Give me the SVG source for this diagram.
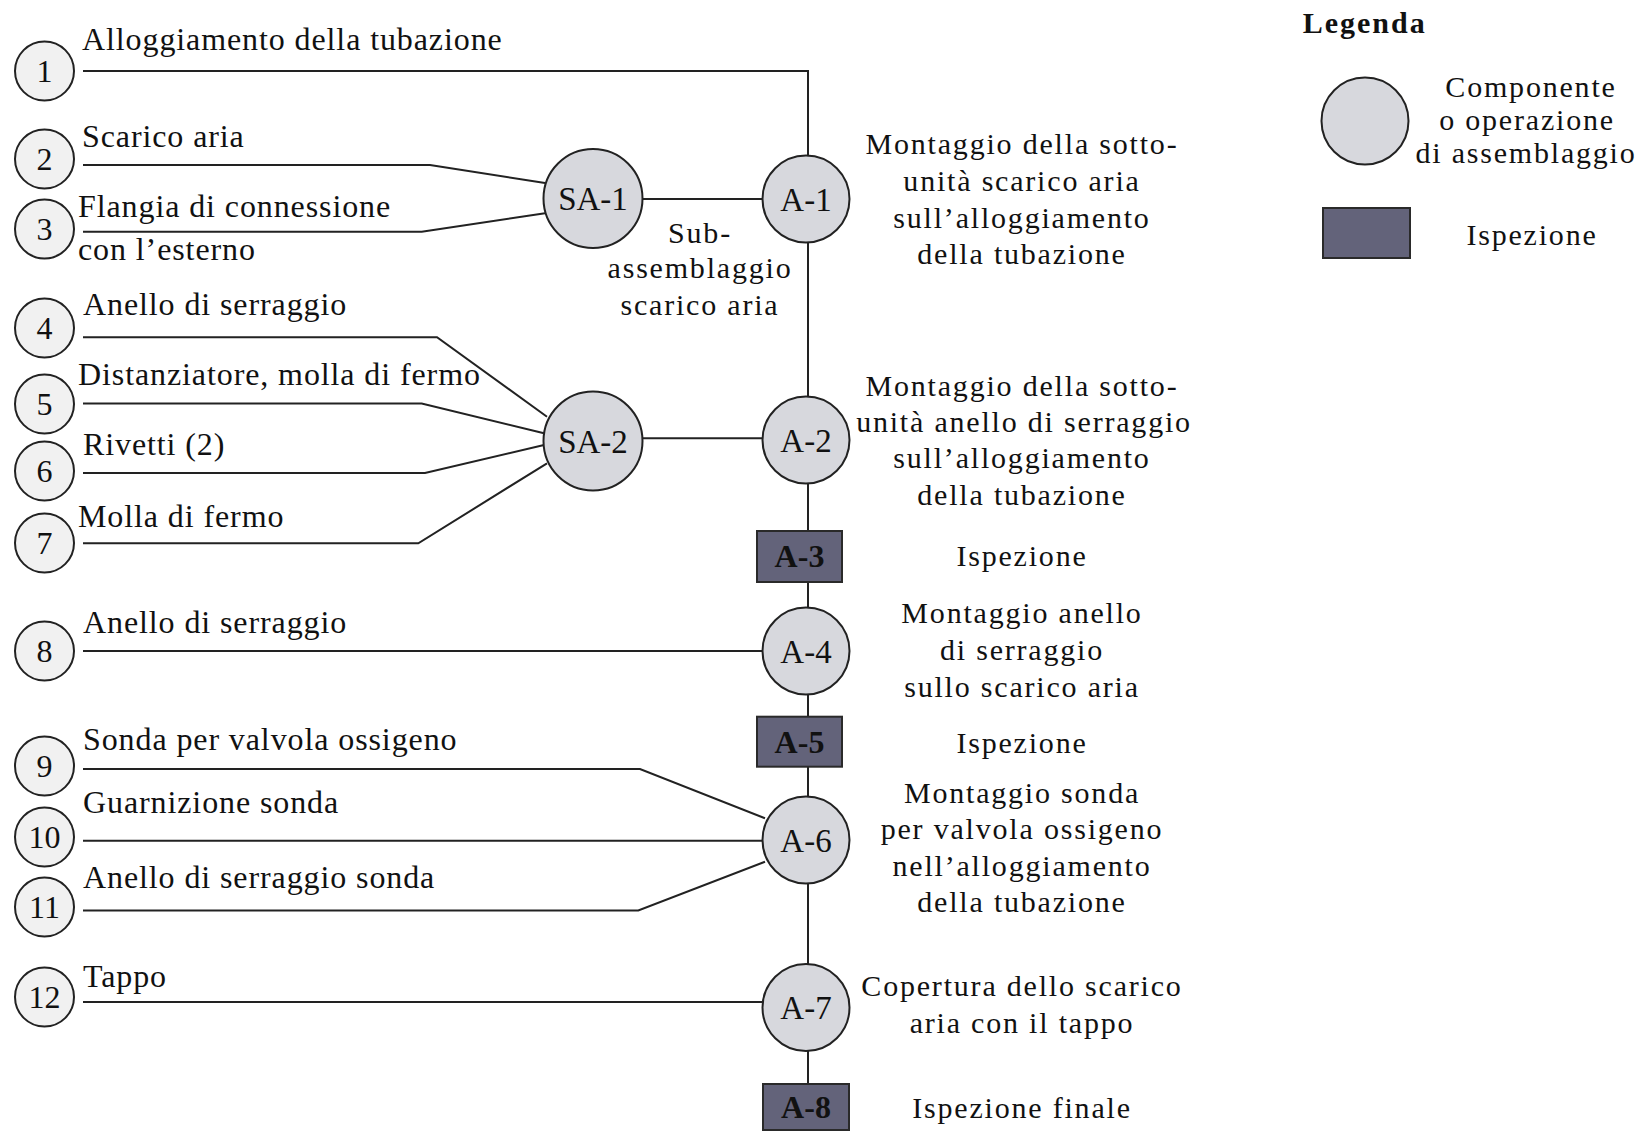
<svg xmlns="http://www.w3.org/2000/svg" width="1638" height="1132" viewBox="0 0 1638 1132">
  <style>
    text { font-family: "Liberation Serif", "Times New Roman", serif; fill: #111; }
    .part { fill: #f1f1f1; stroke: #222; stroke-width: 2; }
    .op { fill: #d7d8dd; stroke: #222; stroke-width: 2; }
    .insp { fill: #63637a; stroke: #2a2a2a; stroke-width: 2; }
    .num { font-size: 32px; text-anchor: middle; }
    .lbl { font-size: 32px; letter-spacing: 0.9px; }
    .nid { font-size: 33px; text-anchor: middle; }
    .rid { font-size: 32px; font-weight: bold; text-anchor: middle; }
    .desc { font-size: 30px; letter-spacing: 1.8px; text-anchor: middle; }
    .wire { fill: none; stroke: #222; stroke-width: 2; }
  </style>

  <rect x="0" y="0" width="1638" height="1132" fill="#ffffff"/>

  <!-- connectors -->
  <g id="connectors" class="wire">
    <path d="M83,71 H808 V1084"/>
    <path d="M83,165 H430 L545,183"/>
    <path d="M83,231.7 H421.7 L545,213.3"/>
    <path d="M83,337.3 H437 L547,416.7"/>
    <path d="M83,403.5 H421.7 L544,433.3"/>
    <path d="M83,473 H425 L544,445"/>
    <path d="M83,543.3 H418.3 L547,463.3"/>
    <path d="M642.5,199 H762.5"/>
    <path d="M642.5,438.3 H762.5"/>
    <path d="M83,651 H762.5"/>
    <path d="M83,769 H640 L765,818.3"/>
    <path d="M83,840.7 H762.5"/>
    <path d="M83,910.5 H638.3 L765,861.7"/>
    <path d="M83,1002 H762.5"/>
  </g>

  <!-- components -->
  <g id="p1"><circle class="part" cx="44.5" cy="71" r="29.5"/><text class="num" x="44.5" y="82">1</text>
    <text class="lbl" x="82" y="50">Alloggiamento della tubazione</text></g>
  <g id="p2"><circle class="part" cx="44.5" cy="159" r="29.5"/><text class="num" x="44.5" y="170">2</text>
    <text class="lbl" x="82" y="146.7">Scarico aria</text></g>
  <g id="p3"><circle class="part" cx="44.5" cy="229" r="29.5"/><text class="num" x="44.5" y="240">3</text>
    <text class="lbl" x="78" y="216.7">Flangia di connessione</text>
    <text class="lbl" x="78" y="260">con l’esterno</text></g>
  <g id="p4"><circle class="part" cx="44.5" cy="328" r="29.5"/><text class="num" x="44.5" y="339">4</text>
    <text class="lbl" x="83" y="315">Anello di serraggio</text></g>
  <g id="p5"><circle class="part" cx="44.5" cy="404" r="29.5"/><text class="num" x="44.5" y="415">5</text>
    <text class="lbl" x="78" y="385">Distanziatore, molla di fermo</text></g>
  <g id="p6"><circle class="part" cx="44.5" cy="471" r="29.5"/><text class="num" x="44.5" y="482">6</text>
    <text class="lbl" x="83" y="455">Rivetti (2)</text></g>
  <g id="p7"><circle class="part" cx="44.5" cy="543" r="29.5"/><text class="num" x="44.5" y="554">7</text>
    <text class="lbl" x="78" y="527">Molla di fermo</text></g>
  <g id="p8"><circle class="part" cx="44.5" cy="651" r="29.5"/><text class="num" x="44.5" y="662">8</text>
    <text class="lbl" x="83" y="633.3">Anello di serraggio</text></g>
  <g id="p9"><circle class="part" cx="44.5" cy="766" r="29.5"/><text class="num" x="44.5" y="777">9</text>
    <text class="lbl" x="83" y="750">Sonda per valvola ossigeno</text></g>
  <g id="p10"><circle class="part" cx="44.5" cy="837" r="29.5"/><text class="num" x="44.5" y="848">10</text>
    <text class="lbl" x="83" y="813.3">Guarnizione sonda</text></g>
  <g id="p11"><circle class="part" cx="44.5" cy="907" r="29.5"/><text class="num" x="44.5" y="918">11</text>
    <text class="lbl" x="83" y="888.3">Anello di serraggio sonda</text></g>
  <g id="p12"><circle class="part" cx="44.5" cy="997" r="29.5"/><text class="num" x="44.5" y="1008">12</text>
    <text class="lbl" x="83" y="986.7">Tappo</text></g>

  <!-- sub-assemblies -->
  <g id="SA-1"><circle class="op" cx="593" cy="198.5" r="49.5"/><text class="nid" x="593" y="210">SA-1</text>
    <text class="desc" x="700" y="243.3">Sub-</text>
    <text class="desc" x="700" y="278.3">assemblaggio</text>
    <text class="desc" x="700" y="315">scarico aria</text></g>
  <g id="SA-2"><circle class="op" cx="593" cy="441" r="49.5"/><text class="nid" x="593" y="452.5">SA-2</text></g>

  <!-- assembly operations and inspections -->
  <g id="A-1"><circle class="op" cx="806" cy="199" r="43.5"/><text class="nid" x="806" y="210.5">A-1</text>
    <text class="desc" x="1022" y="153.6">Montaggio della sotto-</text>
    <text class="desc" x="1022" y="191">unità scarico aria</text>
    <text class="desc" x="1022" y="228">sull’alloggiamento</text>
    <text class="desc" x="1022" y="264.3">della tubazione</text></g>
  <g id="A-2"><circle class="op" cx="806" cy="440" r="43.5"/><text class="nid" x="806" y="451.5">A-2</text>
    <text class="desc" x="1022" y="396.4">Montaggio della sotto-</text>
    <text class="desc" x="1024" y="432">unità anello di serraggio</text>
    <text class="desc" x="1022" y="468">sull’alloggiamento</text>
    <text class="desc" x="1022" y="505.4">della tubazione</text></g>
  <g id="A-3"><rect class="insp" x="757" y="531" width="85" height="51"/><text class="rid" x="799.5" y="567">A-3</text>
    <text class="desc" x="1022" y="566">Ispezione</text></g>
  <g id="A-4"><circle class="op" cx="806" cy="651" r="43.5"/><text class="nid" x="806" y="662.5">A-4</text>
    <text class="desc" x="1022" y="622.5">Montaggio anello</text>
    <text class="desc" x="1022" y="660">di serraggio</text>
    <text class="desc" x="1022" y="697">sullo scarico aria</text></g>
  <g id="A-5"><rect class="insp" x="757" y="716.7" width="85" height="50"/><text class="rid" x="799.5" y="752.5">A-5</text>
    <text class="desc" x="1022" y="753">Ispezione</text></g>
  <g id="A-6"><circle class="op" cx="806" cy="840" r="43.5"/><text class="nid" x="806" y="851.5">A-6</text>
    <text class="desc" x="1022" y="803">Montaggio sonda</text>
    <text class="desc" x="1022" y="838.5">per valvola ossigeno</text>
    <text class="desc" x="1022" y="875.5">nell’alloggiamento</text>
    <text class="desc" x="1022" y="912">della tubazione</text></g>
  <g id="A-7"><circle class="op" cx="806" cy="1007.5" r="43.5"/><text class="nid" x="806" y="1019">A-7</text>
    <text class="desc" x="1022" y="996">Copertura dello scarico</text>
    <text class="desc" x="1022" y="1032.5">aria con il tappo</text></g>
  <g id="A-8"><rect class="insp" x="763" y="1084" width="86" height="46"/><text class="rid" x="806" y="1118">A-8</text>
    <text class="desc" x="1022" y="1118">Ispezione finale</text></g>

  <!-- legend -->
  <g id="legend">
    <text x="1302.7" y="33" font-size="30" font-weight="bold" letter-spacing="2">Legenda</text>
    <circle class="op" cx="1365" cy="121" r="43.5"/>
    <text class="desc" x="1531" y="96.7">Componente</text>
    <text class="desc" x="1527" y="130">o operazione</text>
    <text class="desc" x="1526" y="163">di assemblaggio</text>
    <rect class="insp" x="1323" y="208" width="87" height="50"/>
    <text class="desc" x="1532" y="245">Ispezione</text>
  </g>
</svg>
